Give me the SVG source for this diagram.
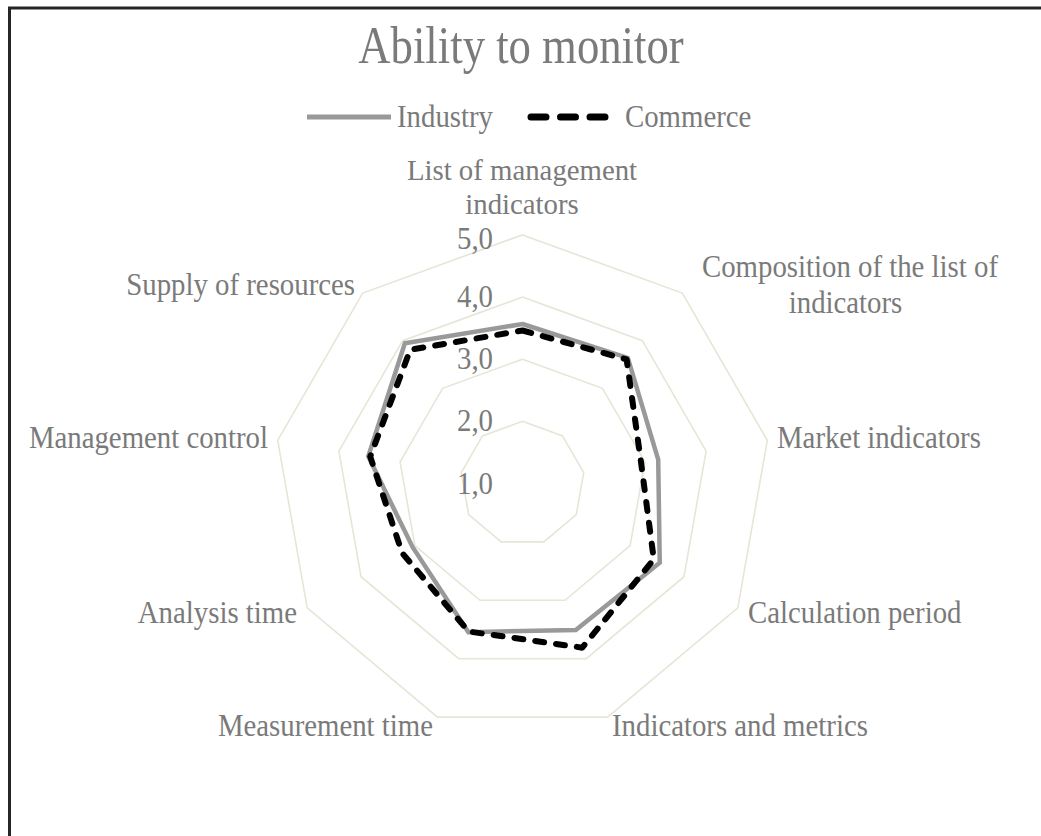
<svg xmlns="http://www.w3.org/2000/svg" width="1041" height="836" viewBox="0 0 1041 836">
<style>
.t{font-family:"Liberation Serif","Times New Roman",serif;fill:#7a7a7a;font-size:32px;}
.m{text-anchor:middle;}
.e{text-anchor:end;}
.grid{fill:none;stroke:#e7e5d6;stroke-width:1.6;}
.ind{fill:none;stroke:#999999;stroke-width:4.5;stroke-linejoin:miter;}
.com{fill:none;stroke:#000000;stroke-width:6;stroke-dasharray:9 12;stroke-linecap:round;stroke-linejoin:round;}
</style>
<rect x="0" y="0" width="1041" height="836" fill="#ffffff"/>
<rect x="9.5" y="8" width="1100" height="900" fill="none" stroke="#262626" stroke-width="3"/>
<text class="t m" transform="translate(521 63) scale(0.86 1)" style="font-size:52px">Ability to monitor</text>
<g id="legend">
<line x1="307" y1="117" x2="391" y2="117" stroke="#999999" stroke-width="5"/>
<text class="t" transform="translate(397 127) scale(0.9 1)">Industry</text>
<line x1="531" y1="117" x2="606" y2="117" stroke="#000" stroke-width="7" stroke-dasharray="15 14.5" stroke-linecap="round"/>
<text class="t" transform="translate(625 127) scale(0.9 1)">Commerce</text>
</g>
<g id="grid">
<polygon class="grid" points="522.5,421.35 562.45,435.89 583.71,472.71 576.32,514.58 543.76,541.9 501.24,541.9 468.68,514.58 461.29,472.71 482.45,435.89"/>
<polygon class="grid" points="522.5,359.2 602.4,388.29 644.91,461.92 630.14,545.65 565.01,600.3 479.99,600.3 414.86,545.65 400.09,461.92 442.6,388.29"/>
<polygon class="grid" points="522.5,297.05 642.35,340.68 706.12,451.13 683.97,576.73 586.27,658.71 458.73,658.71 361.03,576.73 338.88,451.13 402.65,340.68"/>
<polygon class="grid" points="522.5,234.9 682.3,293.1 767.3,440.3 737.8,607.8 607.5,717.1 437.5,717.1 307.2,607.8 277.7,440.3 362.7,293.1"/>
</g>
<g id="ticks">
<text class="t e" transform="translate(493 249) scale(0.9 1)">5,0</text>
<text class="t e" transform="translate(493 307) scale(0.9 1)">4,0</text>
<text class="t e" transform="translate(493 369) scale(0.9 1)">3,0</text>
<text class="t e" transform="translate(493 431) scale(0.9 1)">2,0</text>
<text class="t e" transform="translate(493 494) scale(0.9 1)">1,0</text>
</g>
<g id="connectors">
<polygon id="industry" class="ind" points="522.5,324 627.86,357.95 658.21,459.58 659.76,562.75 575.78,629.9 468.4,632.16 412.52,547 368.28,456.31 404.87,343.32"/>
<polygon id="commerce" class="com" points="522.5,330.5 626.63,359.41 641.07,462.6 653.79,559.3 582.25,647.67 468.63,631.5 402.13,553 370.25,456.66 410.27,349.76"/>
</g>
<g id="axis-labels">
<g id="n0"><text class="t m" transform="translate(522 180) scale(0.96 1)" style="font-size:30px"><tspan x="0" y="0">List of management</tspan><tspan x="0" y="34">indicators</tspan></text></g>
<g id="n1"><text class="t m" transform="translate(850 277) scale(0.9 1)"><tspan x="0" y="0">Composition of the list of</tspan><tspan x="-5" y="36">indicators</tspan></text></g>
<g id="n2"><text class="t" transform="translate(777 448) scale(0.9 1)">Market indicators</text></g>
<g id="n3"><text class="t" transform="translate(748 623) scale(0.9 1)">Calculation period</text></g>
<g id="n4"><text class="t" transform="translate(612 736) scale(0.9 1)">Indicators and metrics</text></g>
<g id="n5"><text class="t e" transform="translate(433 736) scale(0.9 1)">Measurement time</text></g>
<g id="n6"><text class="t e" transform="translate(297 623) scale(0.9 1)">Analysis time</text></g>
<g id="n7"><text class="t e" transform="translate(268 448) scale(0.9 1)">Management control</text></g>
<g id="n8"><text class="t e" transform="translate(355 295) scale(0.9 1)">Supply of resources</text></g>
</g>
</svg>
